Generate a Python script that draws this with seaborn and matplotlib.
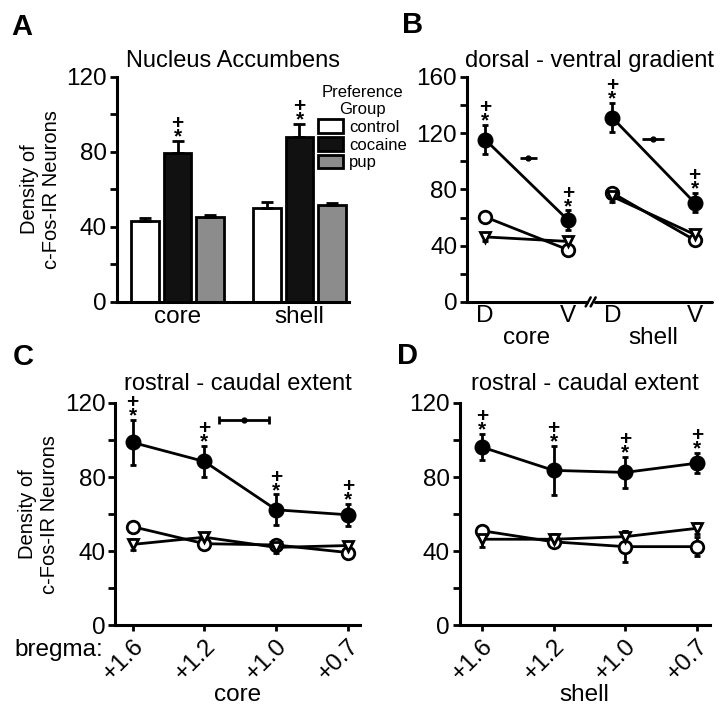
import matplotlib
matplotlib.use("Agg")
import matplotlib.pyplot as plt
from matplotlib.ticker import MultipleLocator
import matplotlib.transforms as mtransforms
import pandas as pd
import seaborn as sns

# groups and regions
groups = ["control", "cocaine", "pup"]
regions = ["core", "shell"]

# panel A - mean density per region
bar_control = [43.4, 50.1]
bar_cocaine = [79.5, 88.2]
bar_pup = [45.2, 51.8]
bar_control_err = [1.1, 3.0]
bar_cocaine_err = [6.5, 6.8]
bar_pup_err = [1.3, 0.8]

# panel B - dorsal / ventral, per region
dv_labels = ["D", "V"]
core_dv_control = [60.4, 37.0]
core_dv_cocaine = [115.4, 58.0]
core_dv_pup = [46.2, 43.0]
core_dv_control_err = [3.0, 3.0]
core_dv_cocaine_err = [10.3, 7.0]
core_dv_pup_err = [3.0, 2.0]
shell_dv_control = [77.5, 44.0]
shell_dv_cocaine = [131.0, 70.6]
shell_dv_pup = [75.0, 48.0]
shell_dv_control_err = [3.5, 2.0]
shell_dv_cocaine_err = [10.5, 7.0]
shell_dv_pup_err = [4.0, 2.0]

# panels C/D - rostral-caudal extent
bregma = ["+1.6", "+1.2", "+1.0", "+0.7"]
core_control = [53.2, 44.0, 43.3, 39.2]
core_cocaine = [98.7, 88.4, 62.3, 59.6]
core_pup = [43.6, 47.5, 42.0, 43.0]
core_control_err = [2.5, 2.0, 2.0, 2.0]
core_cocaine_err = [12.0, 8.5, 8.3, 5.8]
core_pup_err = [3.0, 2.0, 3.0, 2.0]
shell_control = [51.0, 45.0, 42.4, 42.4]
shell_cocaine = [96.2, 83.6, 82.5, 87.5]
shell_pup = [46.4, 46.4, 47.8, 52.3]
shell_control_err = [2.5, 2.5, 8.5, 5.0]
shell_cocaine_err = [7.0, 13.2, 8.5, 5.5]
shell_pup_err = [4.0, 3.0, 3.0, 3.0]

# post-hoc gradient markers (centre, y, half width)
core_dv_sig = [0.52, 102.6, 0.1]
shell_dv_sig = [2.02, 116.0, 0.13]
core_rc_sig = [1.55, 111.0, 0.35]

# layout
dv_pos = {"core": [0, 1], "shell": [1.53, 2.52]}
face = {"control": "white", "cocaine": "black", "pup": "white"}
marker = {"control": "o", "cocaine": "o", "pup": "v"}
msize = {"control": 9, "cocaine": 9.5, "pup": 7.5}
bar_colors = {"control": "white", "cocaine": "#111111", "pup": "#8c8c8c"}

sns.set_style("ticks")
plt.rcParams["font.family"] = ["Liberation Sans", "DejaVu Sans"]
plt.rcParams["axes.linewidth"] = 2.2
plt.rcParams["xtick.major.width"] = 2
plt.rcParams["ytick.major.width"] = 2
plt.rcParams["ytick.minor.width"] = 2
plt.rcParams["ytick.major.size"] = 5
plt.rcParams["ytick.minor.size"] = 5
plt.rcParams["xtick.major.size"] = 4
plt.rcParams["xtick.color"] = "black"
plt.rcParams["ytick.color"] = "black"
plt.rcParams["axes.edgecolor"] = "black"
plt.rcParams["text.color"] = "black"
plt.rcParams["axes.labelcolor"] = "black"

TICK = 17.5
TITLE = 17
fig = plt.figure(figsize=(7.25, 7.12), dpi=100)
axA = fig.add_axes([0.161, 0.576, 0.321, 0.316])
axB = fig.add_axes([0.644, 0.576, 0.338, 0.316])
axC = fig.add_axes([0.159, 0.122, 0.338, 0.312])
axD = fig.add_axes([0.634, 0.122, 0.345, 0.312])


def style_y(ax, top):
    ax.set_ylim(0, top)
    ax.yaxis.set_major_locator(MultipleLocator(40))
    ax.yaxis.set_minor_locator(MultipleLocator(20))
    ax.tick_params(axis="y", which="both", labelsize=TICK, pad=2)
    ax.tick_params(axis="x", labelsize=TICK)
    sns.despine(ax=ax)


def sig_marks(ax, x, top):
    # "+" over "*" as one stacked label
    ax.annotate("+\n*", (x, top), xytext=(0, -4), textcoords="offset points",
                ha="center", va="bottom", fontsize=15, fontweight="bold",
                multialignment="center", linespacing=0.62)


def draw_lines(ax, xs, vals, errs):
    for g in groups:
        z = 4 if g == "cocaine" else 3
        ax.errorbar(xs, vals[g], yerr=errs[g], fmt="none", ecolor="black",
                    elinewidth=2, capsize=2.5, capthick=2, zorder=z)
        sns.lineplot(x=xs, y=vals[g], ax=ax, color="black", lw=2,
                     marker=marker[g], markersize=msize[g],
                     markerfacecolor=face[g], markeredgecolor="black",
                     markeredgewidth=2, zorder=z + 0.5)
    for x, v, e in zip(xs, vals["cocaine"], errs["cocaine"]):
        sig_marks(ax, x, v + e)


# ---- A: bars
dfA = pd.DataFrame({
    "region": regions * 3,
    "group": [g for g in groups for _ in regions],
    "density": bar_control + bar_cocaine + bar_pup,
})
errA = {"control": bar_control_err, "cocaine": bar_cocaine_err, "pup": bar_pup_err}
valA = {"control": bar_control, "cocaine": bar_cocaine, "pup": bar_pup}
sns.barplot(data=dfA, x="region", y="density", hue="group", hue_order=groups,
            palette=bar_colors, edgecolor="black", linewidth=2, gap=0.15,
            errorbar=None, ax=axA, legend=False)
for g, cont in zip(groups, axA.containers):
    xs = [b.get_x() + b.get_width() / 2 for b in cont]
    axA.errorbar(xs, valA[g], yerr=[[0] * len(xs), errA[g]], fmt="none",
                 ecolor="black", elinewidth=2, capsize=4, capthick=2)
    if g == "cocaine":
        for x, v, e in zip(xs, valA[g], errA[g]):
            sig_marks(axA, x, v + e)
style_y(axA, 120)
axA.set_xlim(-0.5, 1.41)
axA.tick_params(axis="x", length=0, pad=3)
axA.set_xlabel("")
axA.set_ylabel("Density of\nc-Fos-IR Neurons", fontsize=14.5, labelpad=4)
axA.set_title("Nucleus Accumbens", fontsize=TITLE, pad=7)
handles = [plt.Rectangle((0, 0), 1, 1, facecolor=bar_colors[g], edgecolor="black",
                         linewidth=2) for g in groups]
leg = axA.legend(handles, groups, title="Preference\nGroup", loc="upper left",
                 bbox_to_anchor=(0.865, 0.965), frameon=False, fontsize=12,
                 title_fontsize=12, handlelength=1.5, handleheight=0.9,
                 labelspacing=0.12, handletextpad=0.35, borderpad=0,
                 borderaxespad=0)
leg.get_title().set_multialignment("center")
leg._legend_box.align = "center"

# ---- B: dorsal-ventral gradient
dvB = {
    "core": ({"control": core_dv_control, "cocaine": core_dv_cocaine, "pup": core_dv_pup},
             {"control": core_dv_control_err, "cocaine": core_dv_cocaine_err, "pup": core_dv_pup_err}),
    "shell": ({"control": shell_dv_control, "cocaine": shell_dv_cocaine, "pup": shell_dv_pup},
              {"control": shell_dv_control_err, "cocaine": shell_dv_cocaine_err, "pup": shell_dv_pup_err}),
}
for r in regions:
    draw_lines(axB, dv_pos[r], dvB[r][0], dvB[r][1])
for sx, sy, hw in [core_dv_sig, shell_dv_sig]:
    axB.errorbar([sx], [sy], xerr=[hw], fmt="o", color="black", ms=3.5,
                 elinewidth=2, capsize=0)
style_y(axB, 160)
axB.set_xlim(-0.22, 2.73)
axB.set_xticks(dv_pos["core"] + dv_pos["shell"])
axB.set_xticklabels(dv_labels * 2)
axB.tick_params(axis="x", length=0, pad=2)
axB.set_title("dorsal - ventral gradient", fontsize=TITLE, pad=7)
# broken x axis
axB.spines["bottom"].set_visible(False)
trB = mtransforms.blended_transform_factory(axB.transData, axB.transAxes)
axB.plot([-0.22, 1.22], [0, 0], color="black", lw=2.2, transform=trB, clip_on=False)
axB.plot([1.32, 2.73], [0, 0], color="black", lw=2.2, transform=trB, clip_on=False)
for dx in (-0.03, 0.03):
    axB.plot([1.24 + dx, 1.30 + dx], [-0.02, 0.02], color="black", lw=1.8,
             transform=trB, clip_on=False)
for r in regions:
    axB.text(sum(dv_pos[r]) / 2, -0.16, r, transform=trB, ha="center",
             va="center", fontsize=TICK)

# ---- C / D: rostral-caudal extent
xs = list(range(len(bregma)))
draw_lines(axC, xs,
           {"control": core_control, "cocaine": core_cocaine, "pup": core_pup},
           {"control": core_control_err, "cocaine": core_cocaine_err, "pup": core_pup_err})
axC.errorbar([core_rc_sig[0]], [core_rc_sig[1]], xerr=[core_rc_sig[2]], fmt="o",
             color="black", ms=3.5, elinewidth=2, capsize=3, capthick=2)
draw_lines(axD, xs,
           {"control": shell_control, "cocaine": shell_cocaine, "pup": shell_pup},
           {"control": shell_control_err, "cocaine": shell_cocaine_err, "pup": shell_pup_err})
for ax, lab, lo, hi in [(axC, "core", -0.24, 3.17), (axD, "shell", -0.31, 3.18)]:
    style_y(ax, 120)
    ax.set_xlim(lo, hi)
    ax.set_xticks(xs)
    ax.set_xticklabels(bregma, rotation=45, ha="right", rotation_mode="anchor")
    ax.tick_params(axis="x", pad=3)
    ax.set_xlabel(lab, fontsize=TICK, labelpad=0)
    ax.set_title("rostral - caudal extent", fontsize=TITLE, pad=9)
axC.set_ylabel("Density of\nc-Fos-IR Neurons", fontsize=14.5, labelpad=4)
fig.text(0.02, 1 - 650 / 712, "bregma:", ha="left", va="center", fontsize=TICK)

# panel letters
for lab, x, y in [("A", 0.016, 0.982), ("B", 0.554, 0.984), ("C", 0.017, 0.518), ("D", 0.548, 0.519)]:
    fig.text(x, y, lab, fontsize=21, fontweight="bold", va="top", ha="left")

fig.savefig("out.png", dpi=100)
